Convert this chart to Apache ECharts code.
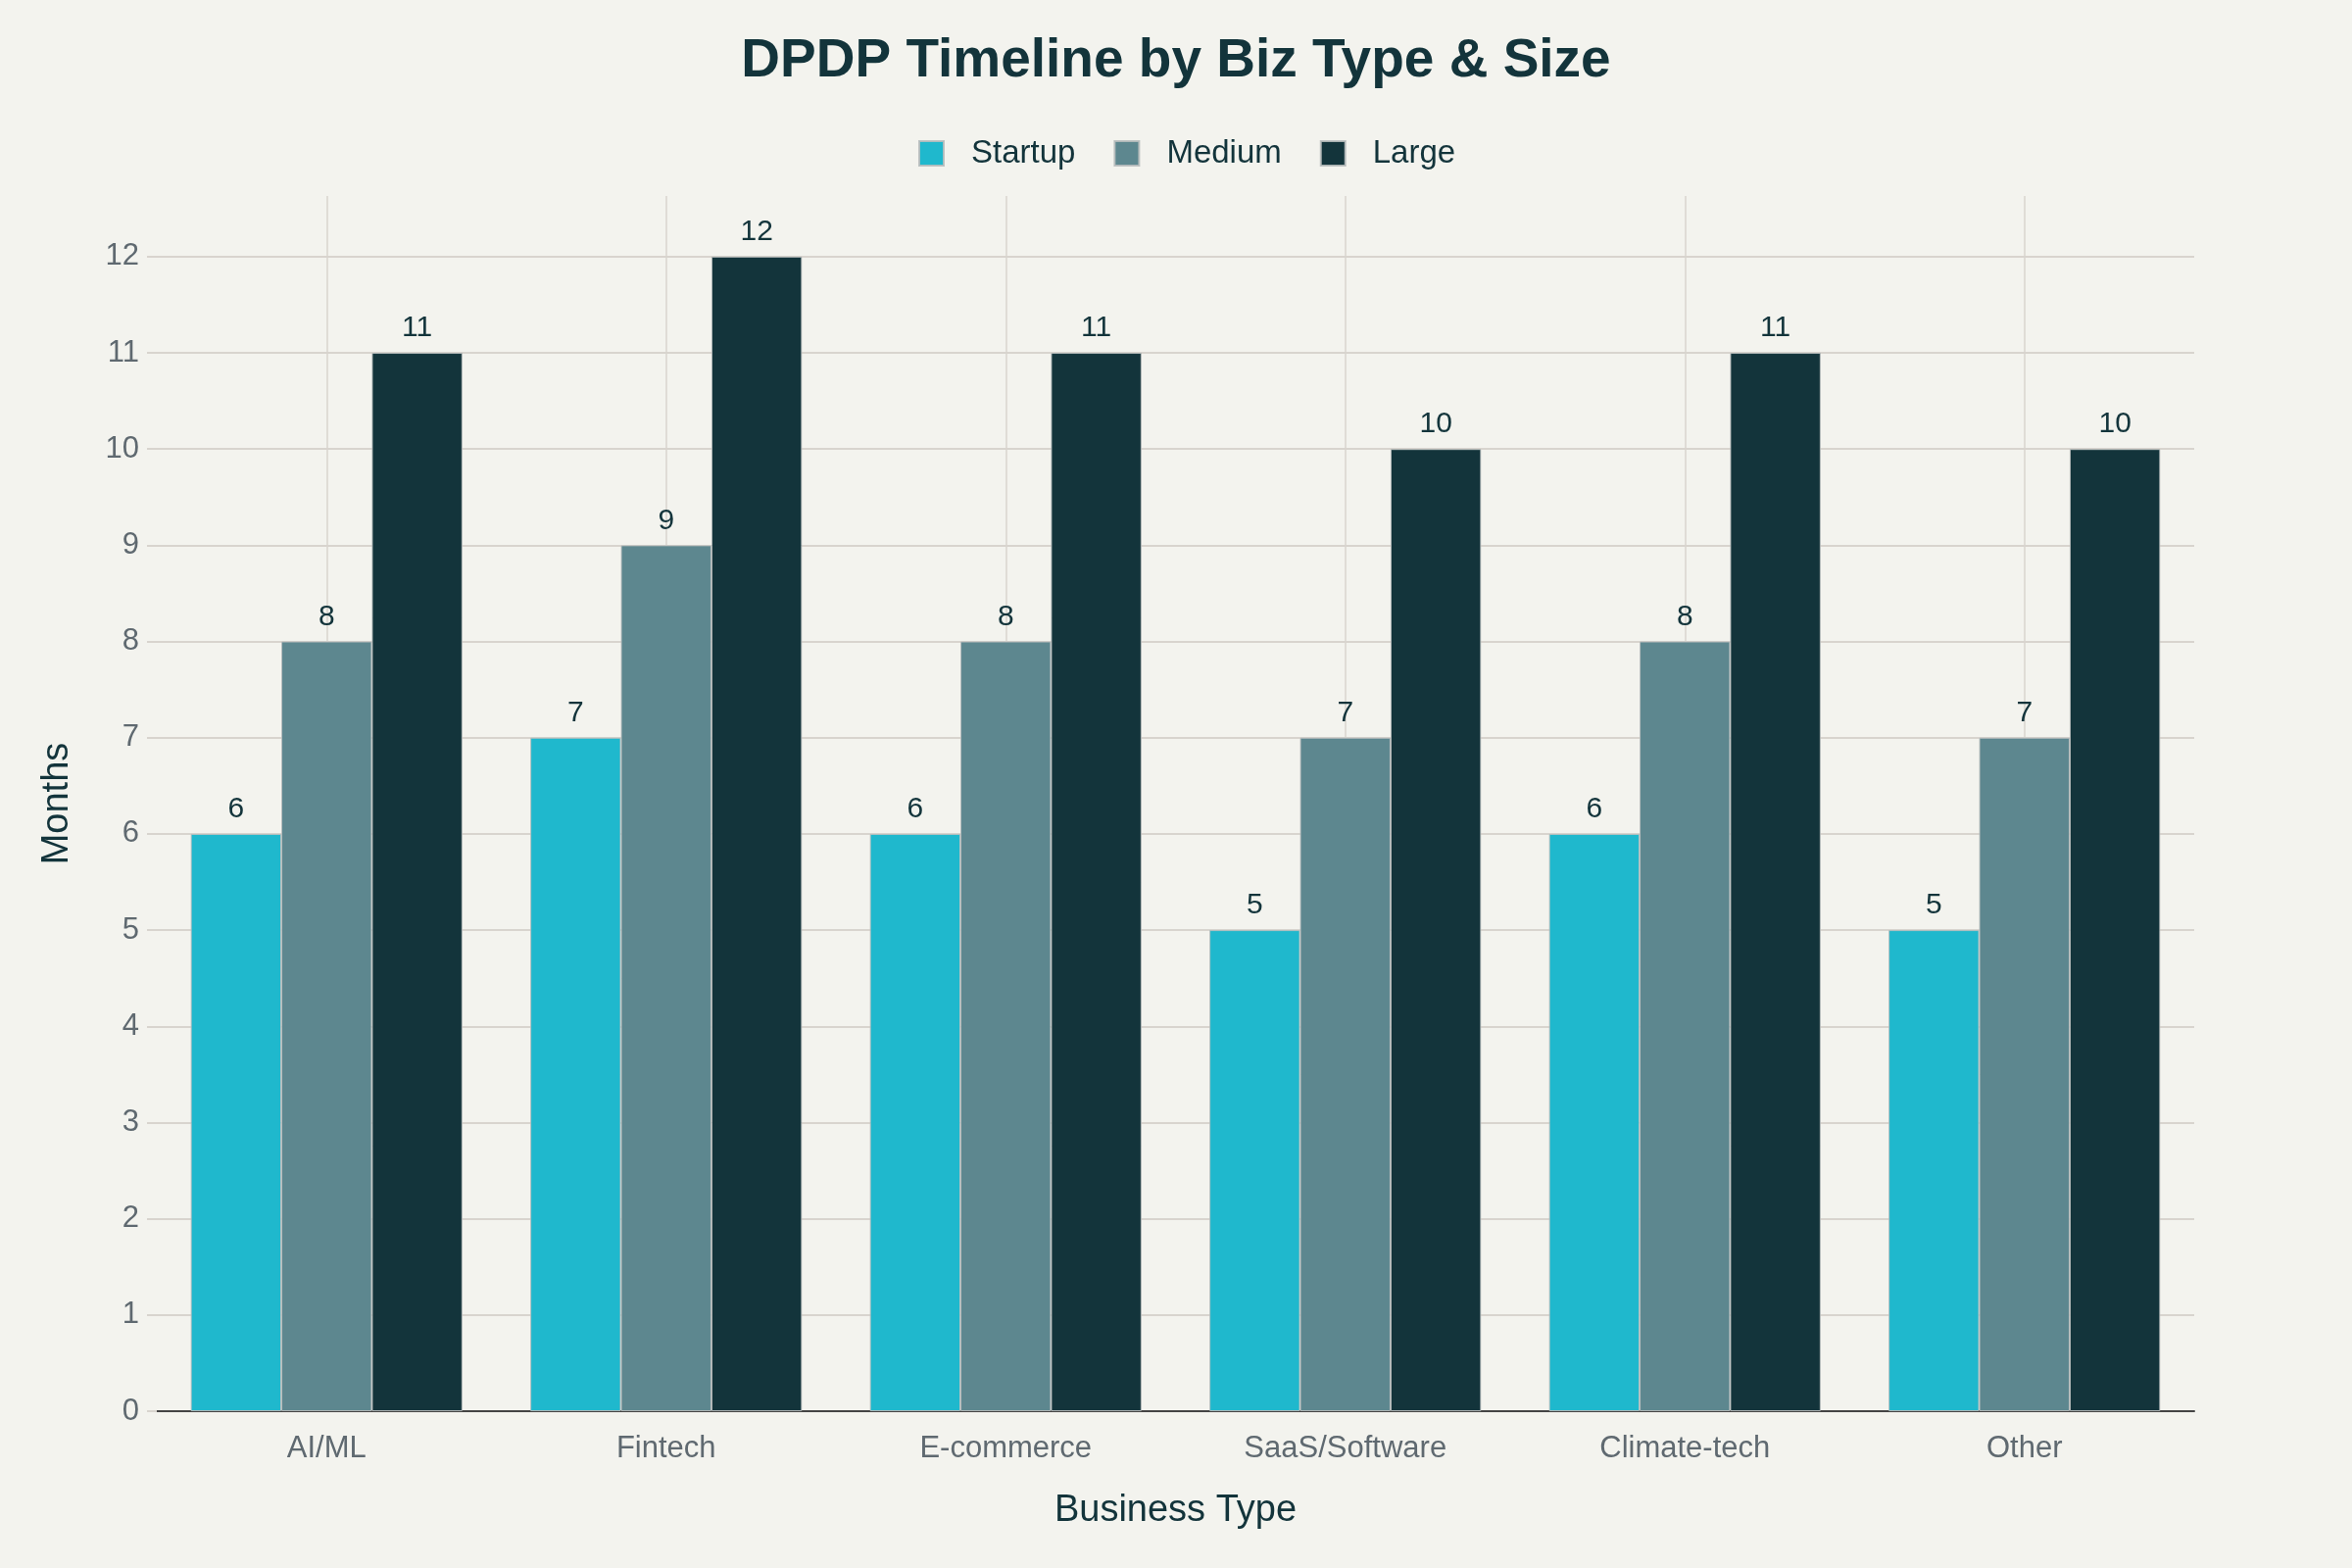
<!DOCTYPE html>
<html>
<head>
<meta charset="utf-8">
<title>DPDP Timeline by Biz Type & Size</title>
<script src="https://cdn.jsdelivr.net/npm/echarts@6/dist/echarts.min.js"></script>
<style>
  html, body { margin: 0; padding: 0; background: #F3F3EE; }
  #chart { width: 2400px; height: 1600px; }
</style>
</head>
<body>
<div id="chart"></div>
<script>
// data
var categories = ['AI/ML', 'Fintech', 'E-commerce', 'SaaS/Software', 'Climate-tech', 'Other'];
var seriesNames = ['Startup', 'Medium', 'Large'];
var startupMonths = [6, 7, 6, 5, 6, 5];
var mediumMonths = [8, 9, 8, 7, 8, 7];
var largeMonths = [11, 12, 11, 10, 11, 10];
var yTicks = [0, 1, 2, 3, 4, 5, 6, 7, 8, 9, 10, 11, 12];

var colors = ['#1FB8CD', '#5D878F', '#13343B'];
var font = '"Liberation Sans", Arial, sans-serif';

var myChart = echarts.init(document.getElementById('chart'));

function makeSeries(name, data, index) {
    return {
        name: name,
        type: 'bar',
        data: data,
        barGap: '0%',
        barCategoryGap: '20%',
        itemStyle: {
            color: colors[index],
            borderColor: 'rgba(185,190,190,0.9)',
            borderWidth: 1
        },
        label: {
            show: true,
            position: 'top',
            distance: 10,
            color: '#13343B',
            fontFamily: font,
            fontSize: 30
        }
    };
}

var option = {
    backgroundColor: '#F3F3EE',
    animation: false,
    title: {
        text: 'DPDP Timeline by Biz Type & Size',
        left: 'center',
        top: 30,
        textStyle: {
            color: '#13343B',
            fontFamily: font,
            fontWeight: 'bold',
            fontSize: 55
        }
    },
    legend: {
        data: seriesNames,
        left: 932,
        top: 135,
        itemWidth: 25,
        itemHeight: 25,
        itemGap: 39,
        icon: 'rect',
        textStyle: {
            color: '#13343B',
            fontFamily: font,
            fontSize: 33,
            padding: [0, 0, 0, 23]
        }
    },
    grid: {
        left: 160,
        right: 161,
        top: 200,
        bottom: 160,
        containLabel: false
    },
    xAxis: {
        type: 'category',
        data: categories,
        name: 'Business Type',
        nameLocation: 'middle',
        nameGap: 83,
        nameTextStyle: {
            color: '#13343B',
            fontFamily: font,
            fontSize: 38
        },
        axisLine: { lineStyle: { color: '#444444', width: 2 } },
        axisTick: {
            alignWithLabel: true,
            length: 10,
            lineStyle: { color: '#CFCBC5', width: 2 }
        },
        axisLabel: {
            margin: 23,
            color: '#5F6970',
            fontFamily: font,
            fontSize: 31
        },
        splitLine: {
            show: true,
            alignWithLabel: true,
            lineStyle: { color: '#D8D4CE', width: 1.5 }
        }
    },
    yAxis: {
        type: 'value',
        min: 0,
        max: 12.63,
        interval: 1,
        name: 'Months',
        nameLocation: 'middle',
        nameGap: 82,
        nameTextStyle: {
            color: '#13343B',
            fontFamily: font,
            fontSize: 38
        },
        axisLine: { show: false },
        axisTick: {
            show: true,
            length: 10,
            customValues: yTicks,
            lineStyle: { color: '#D8D4CE', width: 2 }
        },
        axisLabel: {
            margin: 18,
            customValues: yTicks,
            color: '#5F6970',
            fontFamily: font,
            fontSize: 31
        },
        splitLine: {
            show: true,
            lineStyle: { color: '#D8D4CE', width: 2 }
        }
    },
    series: [
        makeSeries(seriesNames[0], startupMonths, 0),
        makeSeries(seriesNames[1], mediumMonths, 1),
        makeSeries(seriesNames[2], largeMonths, 2)
    ]
};

myChart.setOption(option);
window.addEventListener('resize', function () { myChart.resize(); });
</script>
</body>
</html>
